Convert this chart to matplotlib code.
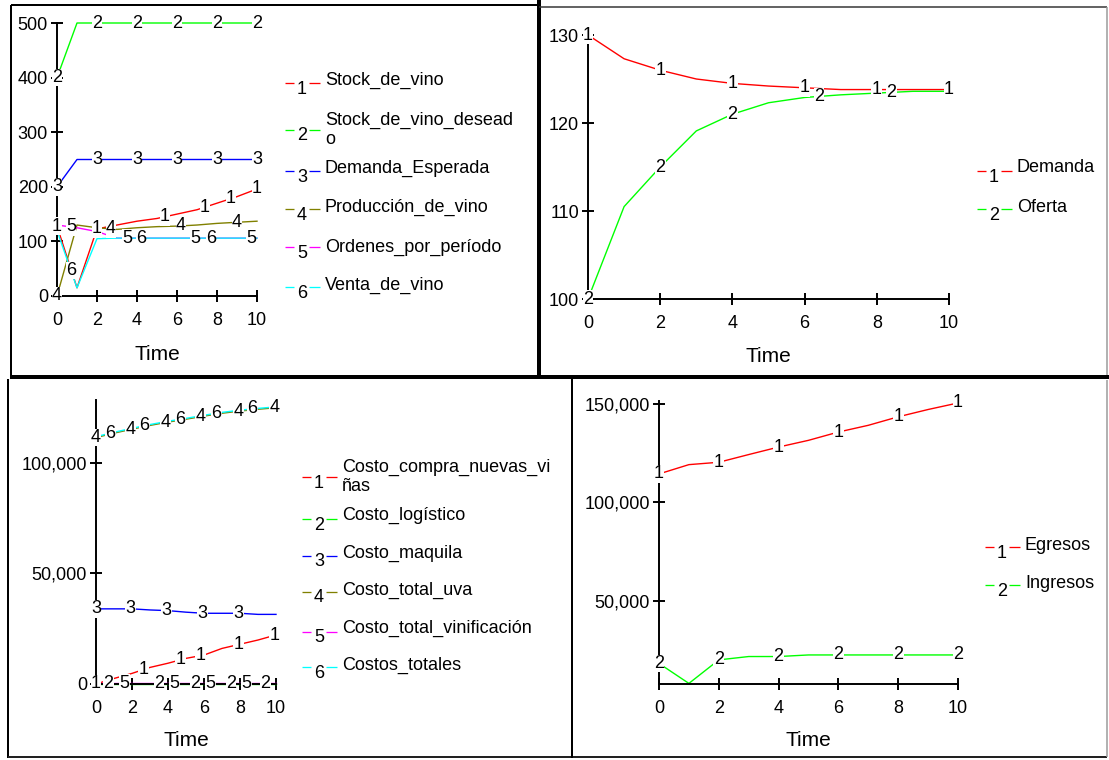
import numpy as np
import matplotlib
matplotlib.use('Agg')
import matplotlib.pyplot as plt
from matplotlib.lines import Line2D
from matplotlib.ticker import FuncFormatter

plt.rcParams['font.family'] = ['Liberation Sans', 'DejaVu Sans']

W, H = 1109, 760

# Data (yearly values)
time = np.arange(0, 11)

# Panel 1 - vino
stock_vino = [128, 15, 123, 130, 137, 142, 150, 158, 170, 182, 196]
stock_vino_deseado = [400, 500, 500, 500, 500, 500, 500, 500, 500, 500, 500]
demanda_esperada = [200, 250, 250, 250, 250, 250, 250, 250, 250, 250, 250]
produccion_vino = [0, 130, 125, 122, 125, 127, 128, 130, 133, 135, 137]
ordenes_periodo = [130, 125, 118, 106, 106, 106, 106, 106, 106, 106, 106]
venta_vino = [120, 15, 105, 106, 106, 106, 106, 106, 106, 106, 106]

# Panel 2 - demanda / oferta
demanda = [130, 127.3, 126.0, 125.0, 124.5, 124.2, 124.0, 123.8, 123.8, 123.8, 123.8]
oferta = [100, 110.5, 115.0, 119.1, 121.0, 122.3, 122.9, 123.2, 123.4, 123.6, 123.6]

# Panel 3 - costos
costo_compra_vinas = [0, 2500, 4800, 7500, 9400, 11600, 13100, 16100, 18000, 19900, 22200]
costo_logistico = [200] * 11
costo_maquila = [34000, 34000, 34000, 33500, 33200, 32500, 32000, 32000, 32000, 31500, 31500]
costo_total_uva = [111500, 113500, 115300, 117000, 118500, 119800, 121200, 122500, 123500, 124300, 125000]
costo_total_vinificacion = [300] * 11
costos_totales = [111900, 113900, 115700, 117400, 118900, 120200, 121600, 122900, 123900, 124700, 125400]

# Panel 4 - egresos / ingresos
egresos = [114400, 119100, 120300, 124200, 128000, 131400, 135600, 139000, 143300, 147000, 150300]
ingresos = [18500, 8400, 20300, 22000, 22000, 22800, 22800, 22800, 22800, 22800, 22800]

RED, GREEN, BLUE = '#ff0000', '#00ff00', '#0000ff'
OLIVE, MAGENTA, CYAN = '#808000', '#ff00ff', '#00ffff'

fig = plt.figure(figsize=(W / 100, H / 100), dpi=100)


def px_line(x0, y0, x1, y1, color='black', lw=2):
    fig.add_artist(Line2D([x0 / W, x1 / W], [1 - y0 / H, 1 - y1 / H],
                          color=color, lw=lw * 0.72, solid_capstyle='butt'))


def add_ax(x0, x1, ytop, ybot, ylim, yticks, time_off):
    ax = fig.add_axes([x0 / W, 1 - ybot / H, (x1 - x0) / W, (ybot - ytop) / H])
    ax.patch.set_alpha(0)
    ax.spines[['top', 'right']].set_visible(False)
    for s in ['left', 'bottom']:
        ax.spines[s].set_linewidth(1.4)
    ax.set_xlim(0, 10)
    ax.set_ylim(*ylim)
    ax.set_xticks(range(0, 11, 2))
    ax.set_yticks(yticks)
    ax.tick_params(direction='inout', length=9, width=1.4, labelsize=13)
    ax.tick_params(axis='x', pad=7)
    ax.tick_params(axis='y', pad=2)
    ax.set_xlabel('Time', fontsize=15, va='center')
    ax.xaxis.set_label_coords(0.5, -time_off / (ybot - ytop))
    return ax


def series(ax, y, color, num, label_times):
    ax.plot(time, y, color=color, lw=1.0, clip_on=False, zorder=2)
    for t in label_times:
        ax.text(t, np.interp(t, time, y), str(num), ha='center', va='center',
                fontsize=13, clip_on=False, zorder=3,
                bbox=dict(facecolor='white', edgecolor='none', pad=0.2))


def legend_entry(x0, y_text, y_num, color, num, text):
    px_line(x0, y_num - 6, x0 + 9, y_num - 6, color=color, lw=1.3)
    fig.text((x0 + 17) / W, 1 - y_num / H, str(num), ha='center', va='center', fontsize=13)
    px_line(x0 + 24, y_num - 6, x0 + 35, y_num - 6, color=color, lw=1.3)
    fig.text((x0 + 40) / W, 1 - y_text / H, text, ha='left', va='center', fontsize=13)


thousands = FuncFormatter(lambda v, p: f'{v:,.0f}')

# Panel 1
ax1 = add_ax(57, 257, 23, 296, (0, 500), range(0, 501, 100), 59)
series(ax1, stock_vino, RED, 1, [0, 2, 5.4, 7.4, 8.7, 10])
series(ax1, stock_vino_deseado, GREEN, 2, [0, 2, 4, 6, 8, 10])
series(ax1, demanda_esperada, BLUE, 3, [0, 2, 4, 6, 8, 10])
series(ax1, produccion_vino, OLIVE, 4, [0, 2.7, 6.2, 9.0])
series(ax1, ordenes_periodo, MAGENTA, 5, [0.7, 3.5, 6.9, 9.7])
series(ax1, venta_vino, CYAN, 6, [0.7, 4.2, 7.7])

legend_entry(285, 80, 89, RED, 1, 'Stock_de_vino')
legend_entry(285, 130, 136, GREEN, 2, 'Stock_de_vino_desead\no')
legend_entry(285, 168, 177, BLUE, 3, 'Demanda_Esperada')
legend_entry(285, 207, 215, OLIVE, 4, 'Producción_de_vino')
legend_entry(285, 247, 253, MAGENTA, 5, 'Ordenes_por_período')
legend_entry(285, 285, 293, CYAN, 6, 'Venta_de_vino')

# Panel 2
ax2 = add_ax(588, 949, 35, 299, (100, 130), [100, 110, 120, 130], 58)
series(ax2, demanda, RED, 1, [0, 2, 4, 6, 8, 10])
series(ax2, oferta, GREEN, 2, [0, 2, 4, 6.4, 8.4])

legend_entry(977, 168, 177, RED, 1, 'Demanda')
legend_entry(977, 207, 215, GREEN, 2, 'Oferta')

# Panel 3
ax3 = add_ax(96, 276, 400, 684, (0, 128500), [0, 50000, 100000], 56)
ax3.yaxis.set_major_formatter(thousands)
series(ax3, costo_compra_vinas, RED, 1, [0, 2.65, 4.7, 5.8, 7.9, 9.9])
series(ax3, costo_logistico, GREEN, 2, [0.7, 3.5, 5.5, 7.5, 9.4])
series(ax3, costo_maquila, BLUE, 3, [0, 1.9, 3.9, 5.9, 7.9])
series(ax3, costo_total_uva, OLIVE, 4, [0, 1.9, 3.85, 5.8, 7.9, 9.9])
series(ax3, costo_total_vinificacion, MAGENTA, 5, [1.6, 4.35, 6.35, 8.35])
series(ax3, costos_totales, CYAN, 6, [0.8, 2.7, 4.7, 6.7, 8.7])

legend_entry(302, 477, 483, RED, 1, 'Costo_compra_nuevas_vi\nñas')
legend_entry(302, 515, 525, GREEN, 2, 'Costo_logístico')
legend_entry(302, 553, 562, BLUE, 3, 'Costo_maquila')
legend_entry(302, 590, 598, OLIVE, 4, 'Costo_total_uva')
legend_entry(302, 628, 638, MAGENTA, 5, 'Costo_total_vinificación')
legend_entry(302, 665, 673, CYAN, 6, 'Costos_totales')

# Panel 4
ax4 = add_ax(659, 958, 401, 684, (8100, 151300), [50000, 100000, 150000], 56)
ax4.yaxis.set_major_formatter(thousands)
series(ax4, egresos, RED, 1, [0, 2, 4, 6, 8, 10])
series(ax4, ingresos, GREEN, 2, [0, 2, 4, 6, 8, 10])

legend_entry(985, 546, 553, RED, 1, 'Egresos')
legend_entry(985, 583, 591, GREEN, 2, 'Ingresos')

# panel frames
px_line(11, 5, 539, 5, lw=2)
px_line(11, 5, 11, 377, lw=2)
px_line(539, 0, 539, 379, lw=4)
px_line(10, 377, 1109, 377, lw=4)
px_line(539, 7, 1107, 7, color='#333333', lw=1.5)
px_line(1107, 7, 1107, 375, color='#999999', lw=1.5)
px_line(8, 379, 8, 758, lw=2)
px_line(8, 757, 1107, 757, color='#222222', lw=2)
px_line(572, 379, 572, 758, lw=2)
px_line(1107, 380, 1107, 757, color='#999999', lw=1.5)

fig.savefig('out.png', dpi=100)
